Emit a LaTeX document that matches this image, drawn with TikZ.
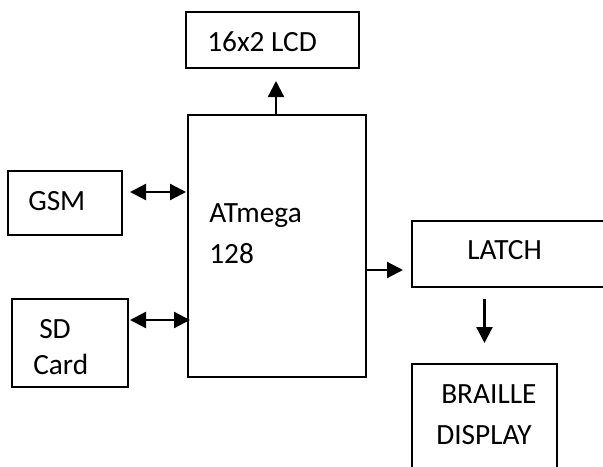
\documentclass[tikz,border=0pt]{standalone}
\usepackage{fontspec}
\setmainfont{Carlito}
\usetikzlibrary{arrows.meta,fit}
\begin{document}
\begin{tikzpicture}[x=0.75pt,y=-0.75pt,
 box/.style={draw,line width=1.5pt,rectangle,inner sep=0pt},
 lbl/.style={anchor=base west,inner sep=0pt,font=\fontsize{22}{26}\selectfont},
 arr/.style={line width=1.7pt,-{Triangle[length=12pt,width=12pt]}},
 darr/.style={line width=1.7pt,{Triangle[length=12pt,width=12pt]}-{Triangle[length=12pt,width=12pt]}}]
\useasboundingbox (0,0) rectangle (603,467);
\clip (0,0) rectangle (603,467);
\fill[white] (0,0) rectangle (603,467);
% boxes
\node[box, fit={(185.5,12) (358.5,68)}] (lcd) {};
\node[box, fit={(188,115) (366,377)}] (mcu) {};
\node[box, fit={(8,171) (122,235)}] (gsm) {};
\node[box, fit={(12,299) (128,387)}] (sd) {};
\node[box, fit={(412,221) (660,287)}] (latch) {};
\node[box, fit={(412,364) (557,520)}] (braille) {};
% labels
\node[lbl] (tlcd) at (207,52) {16x2 LCD};
\node[lbl] (tgsm) at (28,210) {GSM};
\node[lbl] (tat1) at (209,222) {ATmega};
\node[lbl] (tat2) at (209,263) {128};
\node[lbl] (tsd1) at (39,338) {SD};
\node[lbl] (tsd2) at (33,374) {Card};
\node[lbl] (tlat) at (467,259) {LATCH};
\node[lbl] (tbr1) at (441,403) {BRAILLE};
\node[lbl] (tbr2) at (436,444) {DISPLAY};
% connectors
\draw[arr, shorten >=9pt] ([xshift=-0.75pt]mcu.north) -- ([xshift=-0.75pt]mcu.north |- lcd.south);
\draw[darr, shorten <=5.25pt, shorten >=0.75pt] ([yshift=8.25pt]gsm.east) -- ([yshift=8.25pt]gsm.east -| mcu.west);
\draw[darr, shorten <=0.75pt, shorten >=-2.25pt] ([yshift=17.25pt]sd.east) -- ([yshift=17.25pt]sd.east -| mcu.west);
\draw[arr, shorten >=6pt] ([yshift=-18pt]mcu.east) -- ([yshift=-18pt]mcu.east -| latch.west);
\draw[arr, shorten <=8.25pt, shorten >=15pt] (latch.south -| braille.north) -- (braille.north);
\end{tikzpicture}
\end{document}
